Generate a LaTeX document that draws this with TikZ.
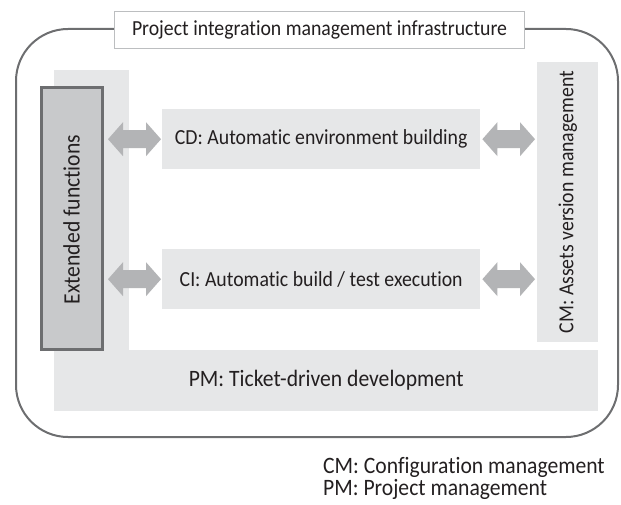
\documentclass[tikz,border=0pt]{standalone}
\usepackage{fontspec}
\setmainfont{Carlito}[FakeStretch=0.92, Ligatures=NoCommon]
\usetikzlibrary{calc}

\definecolor{panelgray}{HTML}{E6E7E8}
\definecolor{arrowgray}{HTML}{B3B4B6}
\definecolor{extfill}{HTML}{C8C9CB}
\definecolor{darkline}{HTML}{6D6E70}
\definecolor{titleline}{HTML}{BCBEC0}
\definecolor{ink}{HTML}{231F20}

% thick grey two-headed arrow between two points on one horizontal line
\newcommand{\twoway}[2]{%
  \fill[arrowgray] let \p1=(#1), \p2=(#2) in
    (\x1,\y1) -- (\x1+15pt,\y1+17pt) -- (\x1+15pt,\y1+9pt) -- (\x2-15pt,\y1+9pt)
    -- (\x2-15pt,\y1+17pt) -- (\x2,\y1) -- (\x2-15pt,\y1-17pt) -- (\x2-15pt,\y1-9pt)
    -- (\x1+15pt,\y1-9pt) -- (\x1+15pt,\y1-17pt) -- cycle;}

\begin{document}
\begin{tikzpicture}[x=1pt,y=-1pt,
  every node/.style={text=ink, font=\fontsize{21.5pt}{24pt}\selectfont, inner sep=0pt},
  bigtext/.style={font=\fontsize{23.5pt}{26pt}\selectfont},
  panel/.style={fill=panelgray, anchor=north west},
  funcbox/.style={fill=panelgray, anchor=north west, minimum width=318pt, minimum height=60pt},
  legend/.style={anchor=base west, bigtext},
]
\useasboundingbox (0,0) rectangle (621,505);

% outer frame of the infrastructure
\draw[darkline, line width=2pt, rounded corners=52pt, fill=white] (16,29) rectangle (618,437);

% title tab sitting on the frame
\node[draw=titleline, line width=1.5pt, fill=white, anchor=north west,
      minimum width=410pt, minimum height=37pt] (title) at (113.75,10.75)
      {Project integration management infrastructure};

% L-shaped PM panel: left column and bottom bar
\node[panel, minimum width=75pt, minimum height=281pt] (pmcol) at (54,70) {};
\node[panel, bigtext, minimum width=544pt, minimum height=61pt] (pm) at (54,350)
      {PM: Ticket-driven development};

% extended functions block
\node[draw=darkline, line width=3pt, fill=extfill, anchor=north west,
      minimum width=61pt, minimum height=261pt] (ext) at (39.5,86.5) {};
\node[rotate=90, bigtext] at ([yshift=-1pt]ext.center) {Extended functions};

% CM column on the right
\node[panel, minimum width=61pt, minimum height=280pt] (cm) at (537,62) {};
\node[rotate=90] at (cm.center) {CM: Assets version management};

% CD and CI function boxes
\node[funcbox] (cd) at (162,109) {CD: Automatic environment building};
\node[funcbox] (ci) at (162,249) {CI: Automatic build / test execution};

% two-way links
\twoway{$(cd.west)+(-54,0)$}{$(cd.west)+(-1,0)$}
\twoway{$(ci.west)+(-54,0)$}{$(ci.west)+(-1,0)$}
\twoway{$(cd.east)+(2,0)$}{$(cm.west |- cd.east)+(-2,0)$}
\twoway{$(ci.east)+(2,0)$}{$(cm.west |- ci.east)+(-2,0)$}

% legend
\node[legend] (leg1) at (323,473) {CM: Configuration management};
\node[legend] (leg2) at (323,495) {PM: Project management};
\end{tikzpicture}
\end{document}
